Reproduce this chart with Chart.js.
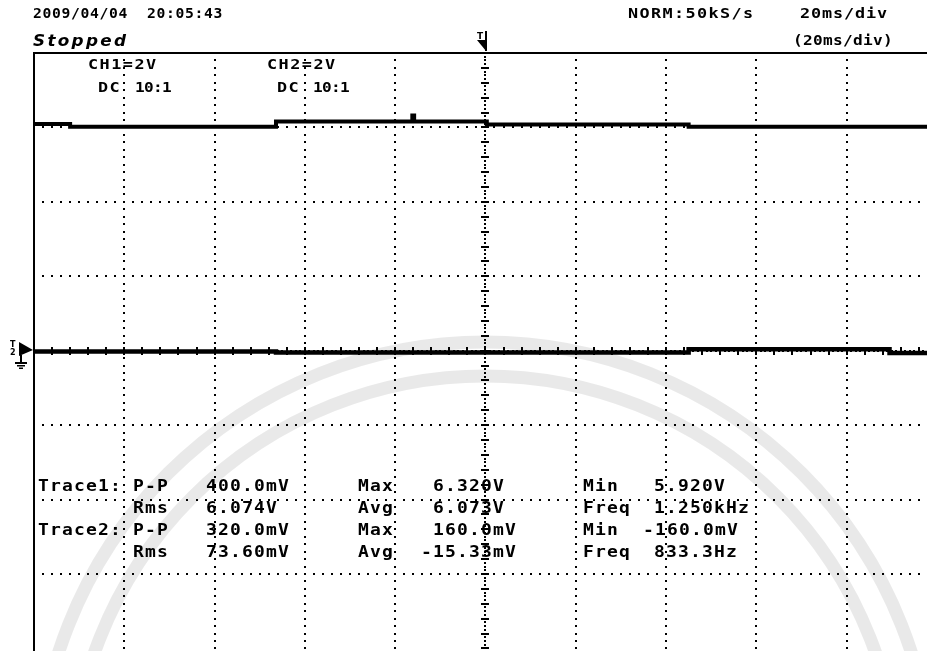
<!DOCTYPE html>
<html><head><meta charset="utf-8">
<script src="https://cdn.jsdelivr.net/npm/chart.js@4.4.1/dist/chart.umd.min.js"></script>
<style>
html,body{margin:0;padding:0;background:#fff;overflow:hidden;width:927px;height:651px;}
#wrap{position:relative;width:927px;height:651px;}
canvas{position:absolute;left:0;top:0;}
.t{position:absolute;font-family:"DejaVu Sans Mono",monospace;font-weight:bold;color:#000;white-space:pre;transform-origin:0 0;}
.p{font-family:"DejaVu Sans",sans-serif;}
</style></head><body>
<div id="wrap"><canvas id="c" width="927" height="651"></canvas></div>
<script>
// ---- data (time in ms, 20 ms/div, trigger at 0; volts at 2 V/div) ----
const xGridMs = [-80, -60, -40, -20, 0, 20, 40, 60, 80];
const yGridV = [6, 4, 2, 0, -2, -4, -6];
const trace1Time = [-100, -92, -46.4, -16.2, -15.8, 0.3, 45, 97.8];
const trace1Volt = [6.09, 6.02, 6.16, 6.32, 6.16, 6.08, 6.02, 6.02];
const trace2Time = [-100, -46.4, 45, 89.5, 97.8];
const trace2mV = [-20, -50, 40, -60, -60];

const headerTexts = ['2009/04/04  20:05:43', 'Stopped', 'NORM:50kS/s', '20ms/div', '(20ms/div)'];
const channelTexts = ['CH1=2V', 'DC', '10:1', 'CH2=2V', 'DC', '10:1'];
const traceNames = ['Trace1:', 'Trace2:'];
const measLabels = ['P-P', 'Rms', 'Max', 'Avg', 'Min', 'Freq'];
const trace1Meas = ['400.0mV', '6.074V', '6.320V', '6.073V', '5.920V', '1.250kHz'];
const trace2Meas = ['320.0mV', '73.60mV', '160.0mV', '-15.33mV', '-160.0mV', '833.3Hz'];

// ---- text overlay ----
const wrap = document.getElementById('wrap');
function addText(str, x, capTop, size, advance, sx, opts) {
  opts = opts || {};
  const d = document.createElement('div');
  d.className = 't' + (opts.prop ? ' p' : '');
  d.textContent = str;
  d.style.left = x + 'px';
  d.style.top = (capTop - 0.117 * size) + 'px';
  d.style.fontSize = size + 'px';
  d.style.lineHeight = size + 'px';
  const base = opts.prop ? 0 : 0.602 * size;
  const sp = opts.prop ? (opts.spacing || 0) : advance / sx - base;
  d.style.letterSpacing = sp + 'px';
  d.style.transform = 'scaleX(' + sx + ')';
  if (opts.italic) d.style.fontStyle = 'italic';
  wrap.appendChild(d);
}
addText(headerTexts[0], 33, 8, 14, 9.5, 1.05);
addText(headerTexts[1], 33, 35, 16, 0, 1.05, { prop: true, italic: true, spacing: 2.2 });
addText(headerTexts[2], 628, 8, 14, 11.5, 1.2);
addText(headerTexts[3], 800, 8, 14, 11.0, 1.2);
addText(headerTexts[4], 793, 35, 14, 10.0, 1.15);
addText(channelTexts[0], 88, 59, 14, 11.6, 1.2);
addText(channelTexts[1], 98, 82, 14, 11.6, 1.2);
addText(channelTexts[2], 135, 82, 14, 9.0, 1.15);
addText(channelTexts[3], 267, 59, 14, 11.6, 1.2);
addText(channelTexts[4], 277, 82, 14, 11.6, 1.2);
addText(channelTexts[5], 313, 82, 14, 9.0, 1.15);

const rowCap = [481, 503, 525, 547];
const colX = { name: 38, lab1: 133, val1: 206, lab2: 358, lab3: 583 };
const val2X = [433, 433, 433, 421];
const val3X = [654, 654, 643, 654];
const S = 15, ADV = 12.0, SX = 1.2;
addText(traceNames[0], colX.name, rowCap[0], S, ADV, SX);
addText(traceNames[1], colX.name, rowCap[2], S, ADV, SX);
[trace1Meas, trace2Meas].forEach((m, ti) => {
  for (let r = 0; r < 2; r++) {
    const row = ti * 2 + r;
    addText(measLabels[r], colX.lab1, rowCap[row], S, ADV, SX);
    addText(m[r], colX.val1, rowCap[row], S, ADV, SX);
    addText(measLabels[2 + r], colX.lab2, rowCap[row], S, ADV, SX);
    addText(m[2 + r], val2X[row], rowCap[row], S, ADV, SX);
    addText(measLabels[4 + r], colX.lab3, rowCap[row], S, ADV, SX);
    addText(m[4 + r], val3X[row], rowCap[row], S, ADV, SX);
  }
});

// ---- plugin: oscilloscope graticule, frame and markers ----
const scopePlugin = {
  id: 'scope',
  beforeDraw(chart) {
    const ctx = chart.ctx;
    ctx.save();
    ctx.strokeStyle = 'rgba(0,0,0,0.085)';
    ctx.lineWidth = 13;
    [448, 414].forEach(r => { ctx.beginPath(); ctx.arc(485, 790, r, Math.PI, 2 * Math.PI); ctx.stroke(); });
    ctx.restore();
  },
  beforeDatasetsDraw(chart) {
    const { ctx, scales: { x, y } } = chart;
    ctx.save();
    ctx.fillStyle = '#000';
    xGridMs.forEach(v => {
      const px = Math.round(x.getPixelForValue(v));
      const step = v === 0 ? 0.1 : 0.2;
      for (let yv = y.max - step; yv >= y.min; yv -= step) {
        const py = Math.round(y.getPixelForValue(yv));
        ctx.fillRect(px - 1, py - 1, 2, 2);
      }
      if (v === 0) {
        for (let yv = y.max - 0.4; yv >= y.min; yv -= 0.4) {
          const py = Math.round(y.getPixelForValue(yv));
          ctx.fillRect(px - 4, py - 1, 8, 2);
        }
      }
    });
    yGridV.forEach(v => {
      const py = Math.round(y.getPixelForValue(v));
      const step = v === 0 ? 1 : 2;
      for (let xv = x.min + step; xv <= x.max; xv += step) {
        const px = Math.round(x.getPixelForValue(xv));
        ctx.fillRect(px - 1, py - 1, 2, 2);
      }
      if (v === 0) {
        for (let xv = x.min + 4; xv <= x.max; xv += 4) {
          const px = Math.round(x.getPixelForValue(xv));
          ctx.fillRect(px - 1, py - 4, 2, 8);
        }
      }
    });
    ctx.restore();
  },
  afterDraw(chart) {
    const { ctx, chartArea: a, scales: { x, y } } = chart;
    ctx.save();
    ctx.fillStyle = '#000';
    ctx.fillRect(a.left - 1, a.top - 1, 2, a.bottom - a.top + 1);
    ctx.fillRect(a.left - 1, a.top - 1, a.right - a.left + 1, 2);
    const tx = Math.round(x.getPixelForValue(0));
    ctx.font = 'bold 9px "DejaVu Sans"';
    ctx.textBaseline = 'alphabetic';
    ctx.fillText('T', tx - 8, 39);
    ctx.fillRect(tx, 31, 2, 20);
    ctx.beginPath(); ctx.moveTo(tx - 8, 40); ctx.lineTo(tx + 2, 40); ctx.lineTo(tx + 1, 51); ctx.closePath(); ctx.fill();
    const gy = Math.round(y.getPixelForValue(0));
    ctx.beginPath(); ctx.moveTo(19, gy - 9); ctx.lineTo(19, gy + 5); ctx.lineTo(a.left - 1, gy - 1); ctx.closePath(); ctx.fill();
    ctx.font = 'bold 8px "DejaVu Sans"';
    ctx.fillText('T', 10, gy - 4);
    ctx.fillText('2', 10, gy + 4);
    ctx.fillRect(20, gy + 4, 2, 7);
    ctx.fillRect(15, gy + 11, 12, 2);
    ctx.fillRect(17, gy + 14, 8, 1.5);
    ctx.fillRect(19, gy + 16.5, 4, 1.5);
    ctx.restore();
  }
};

const toPts = (t, v, k) => t.map((tt, i) => ({ x: tt, y: v[i] * k }));

new Chart(document.getElementById('c'), {
  type: 'line',
  data: {
    datasets: [
      { label: 'Trace1', data: toPts(trace1Time, trace1Volt, 1), borderColor: '#000', borderWidth: 4, pointRadius: 0, stepped: true, fill: false },
      { label: 'Trace2', data: toPts(trace2Time, trace2mV, 0.001), borderColor: '#000', borderWidth: 4.5, pointRadius: 0, stepped: true, fill: false }
    ]
  },
  options: {
    responsive: false,
    animation: false,
    events: [],
    layout: { padding: { left: 34, top: 53, right: 0, bottom: 0 } },
    plugins: { legend: { display: false }, tooltip: { enabled: false }, title: { display: false } },
    scales: {
      x: { type: 'linear', min: -100, max: 97.8, display: false },
      y: { type: 'linear', min: -8.07, max: 8, display: false }
    }
  },
  plugins: [scopePlugin]
});
</script>
</body></html>
